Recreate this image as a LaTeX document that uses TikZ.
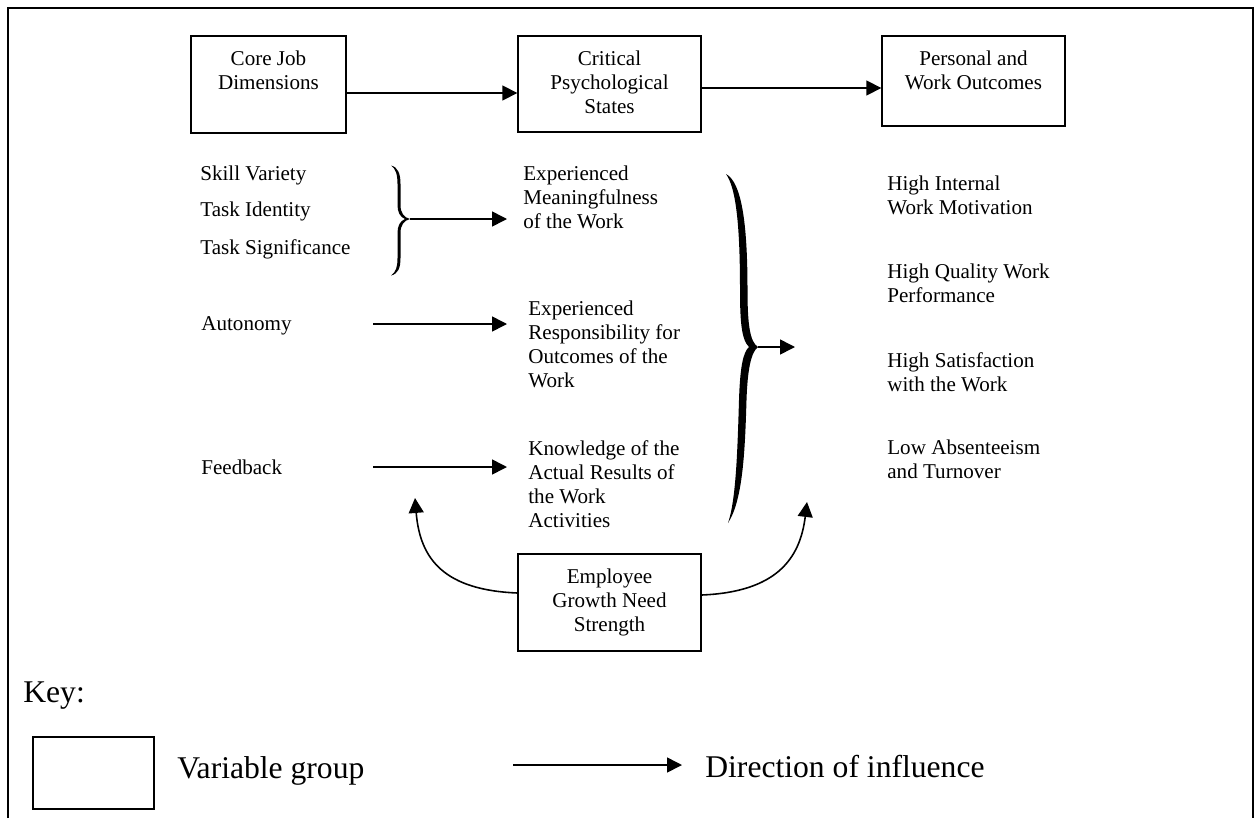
\documentclass[tikz,border=0pt]{standalone}
\usepackage{fontspec}
\setmainfont{Liberation Serif}
\usetikzlibrary{arrows.meta,calc}

\begin{document}
\begin{tikzpicture}[x=0.02cm,y=-0.02cm,
  txt/.style={inner sep=0pt, font=\fontsize{12}{13.6}\selectfont},
  ltxt/.style={txt, anchor=west, align=left},
  btxt/.style={txt, anchor=north, align=center},
  keytxt/.style={inner sep=0pt, font=\fontsize{18}{21}\selectfont, anchor=base west},
  varbox/.style={draw, line width=0.8pt, inner sep=0pt},
  arr/.style={line width=0.9pt, -{Triangle[length=8.5pt,width=8.5pt]}},
]
\useasboundingbox (0,0) rectangle (1257,818);

% outer frame, open at the bottom
\draw[line width=1.5pt] (8,818) -- (8,8) -- (1253,8) -- (1253,818);

% variable groups
\node[varbox, minimum width=3.1cm,  minimum height=1.94cm] (cjd) at (268.5,84.5) {};
\node[btxt] (cjdT) at ($(cjd.north)+(0,15.5)$) {Core Job\\Dimensions};
\node[varbox, minimum width=3.66cm, minimum height=1.92cm] (cps) at (609.5,84) {};
\node[btxt] (cpsT) at ($(cps.north)+(0,15.5)$) {Critical\\Psychological\\States};
\node[varbox, minimum width=3.66cm, minimum height=1.8cm]  (pwo) at (973.5,81) {};
\node[btxt] (pwoT) at ($(pwo.north)+(0,15.5)$) {Personal and\\Work Outcomes};
\node[varbox, minimum width=3.66cm, minimum height=1.94cm] (gns) at (609.5,602.5) {};
\node[btxt] (gnsT) at ($(gns.north)+(0,15.5)$) {Employee\\Growth Need\\Strength};

\draw[arr] ($(cjd.east)+(0,8.5)$) -- ($(cps.west)+(0,9)$);
\draw[arr] ($(cps.east)+(0,4)$) -- ($(pwo.west)+(0,7)$);

% core job dimensions
\node[txt, anchor=base west] (sv) at (200,180) {Skill Variety};
\node[txt, anchor=base west] (ti) at (200,216) {Task Identity};
\node[txt, anchor=base west] (ts) at (200,254) {Task Significance};
\node[txt, anchor=base west] (au) at (201,330) {Autonomy};
\node[txt, anchor=base west] (fb) at (201,474) {Feedback};

% critical psychological states
\node[ltxt] (em) at (523,197) {Experienced\\Meaningfulness\\of the Work};
\node[ltxt] (er) at (528,344.5) {Experienced\\Responsibility for\\Outcomes of the\\Work};
\node[ltxt] (kr) at (528,484) {Knowledge of the\\Actual Results of\\the Work\\Activities};

% outcomes
\node[ltxt] (o1) at (887,195.5) {High Internal\\Work Motivation};
\node[ltxt] (o2) at (887,283.5) {High Quality Work\\Performance};
\node[ltxt] (o3) at (887,372) {High Satisfaction\\with the Work};
\node[ltxt] (o4) at (887,459.5) {Low Absenteeism\\and Turnover};

% small brace grouping the first three dimensions
\fill (391,165.5) .. controls (398,167) and (400.5,174) .. (400.5,184)
  -- (400.5,205) .. controls (400.5,213) and (404,217.5) .. (410,219)
  .. controls (404,220.5) and (400.5,225) .. (400.5,233)
  -- (400.5,258) .. controls (400.5,268) and (398,274) .. (391,275.5)
  .. controls (396,272) and (397.5,267) .. (397.5,258)
  -- (397.5,233) .. controls (397.5,226) and (400,221) .. (405,219)
  .. controls (400,217) and (397.5,212) .. (397.5,205)
  -- (397.5,184) .. controls (397.5,175) and (396,169) .. (391,165.5) -- cycle;
\coordinate (sbTip) at (410,219);
\coordinate (emIn) at (507,219);
\draw[arr] (sbTip) -- (emIn);

% single dimension arrows
\coordinate (auS) at (373,324);
\coordinate (auE) at (507,324);
\draw[arr] (auS) -- (auE);
\coordinate (fbS) at (373,467);
\coordinate (fbE) at (507,467);
\draw[arr] (fbS) -- (fbE);

% large brace grouping the three states
\fill (726,174) .. controls (741,182) and (747.5,220) .. (747.5,290)
  .. controls (747.5,325) and (750,342) .. (758,347)
  .. controls (751,352) and (747.5,370) .. (746.5,400)
  .. controls (745,450) and (743,500) .. (728,523)
  .. controls (736,500) and (737.5,450) .. (739,400)
  .. controls (740,368) and (743,352) .. (749,347)
  .. controls (742,340) and (740,325) .. (740,290)
  .. controls (740,225) and (736,188) .. (726,174) -- cycle;
\coordinate (bbTip) at (758,347);
\coordinate (bbOut) at (795,347);
\draw[arr] (bbTip) -- (bbOut);

% moderating influence of growth need strength
\coordinate (kIn) at (415,498);
\coordinate (oIn) at (807,502);
\draw[arr] ($(gns.west)+(0,-9.5)$) .. controls (445,590) and (420,560) .. (kIn);
\draw[arr] ($(gns.east)+(0,-7.5)$) .. controls (775,592) and (800,560) .. (oIn);

% key
\node[keytxt] (key) at (23,702) {Key:};
\node[varbox, minimum width=2.42cm, minimum height=1.44cm] (kbox) at (93.5,773) {};
\node[keytxt] (kvg) at (177,778) {Variable group};
\coordinate (kaS) at (513,765);
\coordinate (kaE) at (682,765);
\draw[arr] (kaS) -- (kaE);
\node[keytxt] (kdi) at (705,777.5) {Direction of influence};
\end{tikzpicture}
\end{document}
